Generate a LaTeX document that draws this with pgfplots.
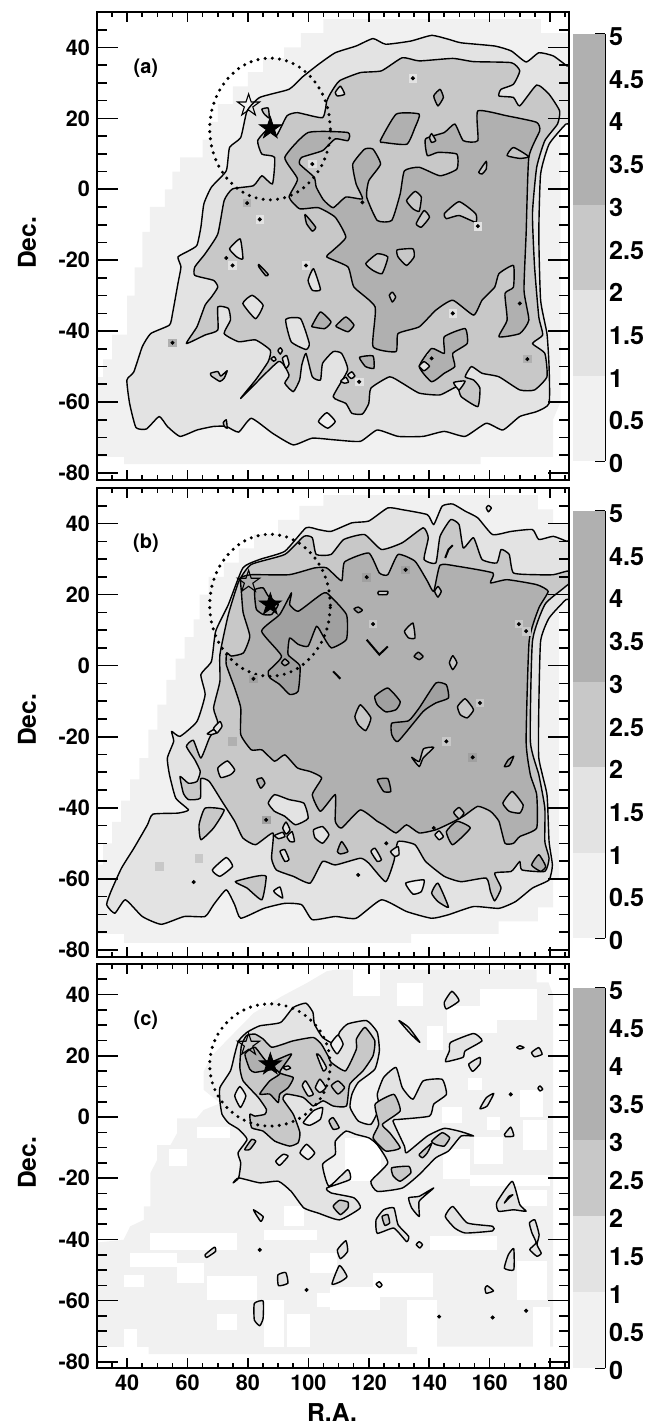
\documentclass[border=0pt]{standalone}
\usepackage{fontspec}
\setmainfont{TeX Gyre Heros}
\usepackage{pgfplots}
\pgfplotsset{compat=1.18}
\usetikzlibrary{plotmarks}
\definecolor{lvA}{HTML}{F1F1F1}
\definecolor{lvB}{HTML}{E3E3E3}
\definecolor{lvC}{HTML}{C8C8C8}
\definecolor{lvD}{HTML}{B0B0B0}
\definecolor{lvE}{HTML}{A0A0A0}
% five pointed star, radius = mark size
\newcommand{\starpath}{%
  \pgfpathmoveto{\pgfpointpolar{90}{\pgfplotmarksize}}%
  \pgfpathlineto{\pgfpointpolar{126}{0.382\pgfplotmarksize}}%
  \pgfpathlineto{\pgfpointpolar{162}{\pgfplotmarksize}}%
  \pgfpathlineto{\pgfpointpolar{198}{0.382\pgfplotmarksize}}%
  \pgfpathlineto{\pgfpointpolar{234}{\pgfplotmarksize}}%
  \pgfpathlineto{\pgfpointpolar{270}{0.382\pgfplotmarksize}}%
  \pgfpathlineto{\pgfpointpolar{306}{\pgfplotmarksize}}%
  \pgfpathlineto{\pgfpointpolar{342}{0.382\pgfplotmarksize}}%
  \pgfpathlineto{\pgfpointpolar{18}{\pgfplotmarksize}}%
  \pgfpathlineto{\pgfpointpolar{54}{0.382\pgfplotmarksize}}%
  \pgfpathclose}
\pgfdeclareplotmark{fstar}{\starpath\pgfusepathqfillstroke}
\pgfdeclareplotmark{ostar}{\starpath\pgfusepathqstroke}
\newcommand{\tickfont}{\fontsize{10.8}{12}\selectfont\bfseries}
\newcommand{\barfont}{\fontsize{12.6}{14}\selectfont\bfseries}
\pgfplotsset{
  mapbase/.style={scale only axis,width=236pt,xmin=30,xmax=186.3,ymin=-82,ymax=50,
    tick align=inside,axis on top,axis line style={line width=1.1pt},
    every tick/.style={black,line width=0.8pt},
    tick label style={font=\tickfont},/pgf/number format/assume math mode=true},
  mapy/.style={mapbase,xtick=\empty,ytick={-80,-60,...,40},minor ytick={-80,-75,...,50},
    major tick length=10.5pt,minor tick length=5pt},
  mapx/.style={mapbase,ytick=\empty,xtick={40,60,...,180},minor xtick={30,35,...,185},
    major tick length=5pt,minor tick length=2.5pt},
  cbar/.style={scale only axis,width=16pt,xmin=0,xmax=1,ymin=0,ymax=5,
    axis x line=none,axis y line=right,axis line style={-,line width=0.8pt},
    ytick={0,0.5,...,5},yticklabels={0,0.5,1,1.5,2,2.5,3,3.5,4,4.5,5},tick align=inside,
    major tick length=5pt,every tick/.style={black,line width=0.8pt},
    yticklabel style={font=\barfont,xshift=-1.5pt,yshift=-1.3pt},/pgf/number format/assume math mode=true},
}
\newcommand{\cont}[2]{\addplot[fill=#1,draw=black,line width=0.7pt,line join=round,smooth cycle,tension=0.3,forget plot] coordinates {#2};}
\newcommand{\zone}[2]{\addplot[fill=#1,draw=none,forget plot] coordinates {#2} -- cycle;}
\newcommand{\lin}[1]{\addplot[black,line width=1pt,forget plot] coordinates {#1};}
\newcommand{\cells}[2]{\addplot[only marks,mark=square*,mark size=1.9pt,color=#1,forget plot] coordinates {#2};}
\newcommand{\pts}[1]{\addplot[only marks,mark=*,mark size=0.8pt,color=black,forget plot] coordinates {#1};}
% white gap in the lightest level: x0 x1 y0 y1
\newcommand{\gap}[4]{\zone{white}{(#1,#3)(#2,#3)(#2,#4)(#1,#4)}}
\newcommand{\overlay}{%
  \addplot[black,line width=1.7pt,line cap=round,dash pattern=on 0pt off 3.6pt,smooth,forget plot] coordinates {
    (107.3,17)(106.6,22.2)(104.6,27)(101.4,31.1)(97.3,34.3)(92.5,36.3)(87.3,37)(82.1,36.3)(77.3,34.3)(73.2,31.1)(70,27)(68,22.2)
    (67.3,17)(68,11.8)(70,7)(73.2,2.9)(77.3,-0.3)(82.1,-2.3)(87.3,-3)(92.5,-2.3)(97.3,-0.3)(101.4,2.9)(104.6,7)(106.6,11.8)(107.3,17)};
  \addplot[only marks,mark=fstar,mark size=5.8pt,mark options={fill=black,draw=black},forget plot] coordinates {(87.4,17.2)};
  \addplot[only marks,mark=ostar,mark size=5.8pt,mark options={draw=black,line width=0.55pt},forget plot] coordinates {(80.2,23.6)};
}
\newcommand{\colbar}[1]{%
  \begin{axis}[cbar,#1]
    \zone{lvA}{(0,0)(1,0)(1,1)(0,1)}
    \zone{lvB}{(0,1)(1,1)(1,2)(0,2)}
    \zone{lvC}{(0,2)(1,2)(1,3)(0,3)}
    \zone{lvD}{(0,3)(1,3)(1,5)(0,5)}
  \end{axis}}
\begin{document}
\begin{tikzpicture}
\path[use as bounding box] (0,0) rectangle (327.5pt,712.5pt);
%%%% panel a
\begin{axis}[mapy,height=234pt,at={(48.5pt,472.5pt)},anchor=south west]
\zone{lvA}{(30,-53)(32,-53)(32,-48)(35,-48)(35,-41)(40,-41)(40,-30)(42.5,-30)(42.5,-22)(45,-22)(45,-12)(47.5,-12)(47.5,-5)(52.5,-5)(52.5,0)(55,0)(55,5)(57.5,5)(57.5,9)(65,9)(65,14)(67.5,14)(67.5,19)(70,19)(70,24)(75,24)(75,29)(80,29)(80,33)(85,33)(85,37)(92,37)(92,40)(97.5,40)(97.5,44)(105,44)(105,48)(177,48)(177,44)(179.5,44)(186.3,44)(186.3,24)(183.5,24)(183.5,-60)(181,-65)(181,-75.5)(157,-75.5)(157,-77.5)(39,-77.5)(39,-75.5)(30,-75.5)}
\cont{lvB}{(39.9,-53.8)(42.2,-51.5)(45,-44.4)(47.8,-40.7)(54,-38.3)(55,-35.1)(56.8,-26.6)(57.8,-21.9)(56.8,-19.1)(60.3,-17.4)(63.1,-15.8)(64.4,-10.7)(65.4,-4.1)(67.9,0.6)(72.8,5.2)(73.9,11.8)(77.6,14.6)(79.7,22.1)(83.9,25.9)(93.6,28.2)(97.8,31.5)(103.3,35.2)(108.9,38.5)(115.8,40.4)(121.4,42.5)(125.6,40.9)(133.9,41.8)(140.8,43.4)(146.4,42.3)(150.6,41.3)(161.7,40.4)(167.2,39)(172.1,35.9)(176.3,38.5)(181.1,37.6)(185.6,34.8)(187.5,34)(187.5,18.5)(185.3,18.4)(179.7,12.7)(176.9,4.3)(176.3,-12.6)(176.9,-31.3)(179,-40.7)(179.7,-50)(179.7,-60.4)(175.6,-62.7)(170,-64.1)(164.4,-67.9)(158.9,-66)(151.9,-69.7)(145,-68.3)(138,-69.7)(129.7,-69.7)(122.8,-67.9)(117.2,-71.1)(108.9,-70.7)(101.3,-70.2)(95,-72.1)(88.1,-68.8)(81.1,-64.6)(76.9,-68.5)(72.8,-66.9)(68.6,-66.9)(63.1,-67.9)(57.5,-69.7)(53.3,-66.9)(50.6,-64.1)(46.4,-67.6)(42.9,-67.2)(40.8,-60.4)}
\cont{lvC}{(62.4,-21.9)(65.8,-18.2)(70,-12.6)(72.1,-3.2)(74.9,0.1)(81.8,1)(84.6,3.8)(88.1,1.5)(88.8,9)(84.6,9.9)(83.2,13.7)(86.7,17)(89.4,15.1)(92.9,20.7)(96.4,21.6)(104.7,20.2)(106.1,24.9)(107.5,27.3)(110.3,30.6)(117.2,32.9)(124.2,33.4)(131.1,37.1)(136.7,36.2)(147.8,36.9)(154.7,36)(167.2,35.7)(170,33.4)(167.9,29.6)(163.8,28.2)(163.1,26.3)(167.9,25.9)(170,23.5)(175.6,29.4)(179.7,26.8)(183.2,22.1)(182.5,18.4)(178.3,13.7)(175.6,6.2)(174.2,-6.9)(174.9,-21.9)(176.3,-36)(177.6,-41.1)(174.2,-43.5)(178.3,-46.3)(179,-52.9)(174.9,-56.6)(170,-56.6)(163.1,-52.9)(157.5,-51.9)(154,-50)(151.9,-52.9)(154.7,-53.8)(156.8,-56.1)(156.1,-61.3)(150.6,-58.5)(149.2,-55.7)(143.6,-58)(136.7,-57.5)(131.1,-54.7)(126.9,-52.9)(120.7,-56.1)(120,-60.4)(117.9,-63.4)(114.4,-63.2)(112.4,-60.4)(108.2,-58.5)(113,-51)(111,-46.3)(108.2,-45.8)(104.7,-49.1)(104,-53.8)(101.3,-52.9)(99.2,-46.3)(97.8,-49.6)(97.1,-53.8)(95,-57.1)(92.2,-54.7)(93.6,-52.4)(90.1,-48.6)(77.6,-59)(82.5,-53.8)(86.7,-48.6)(87.4,-45.4)(82.5,-42.5)(76.9,-43)(72.1,-40.7)(74.2,-36.9)(73.5,-33.6)(70,-33.2)(70,-39.7)(65.8,-41.1)(59.6,-43.5)(63.1,-38.8)(65.8,-32.7)(67.9,-30.4)(70,-27.6)(68.6,-25.7)(62.4,-24.3)}
\cont{lvD}{(99.9,16)(113.1,16)(113.1,13.7)(108.9,14.2)(104.7,10.9)(97.8,9)(97.1,7.1)(101.9,3.4)(102.6,0.6)(105,-3)(108.2,-5.2)(112.4,-2.2)(117.9,-2.7)(115.8,1.5)(114.7,7.1)(118.6,11.3)(121.4,11.3)(123.9,7.1)(120,2.4)(119.3,-2.2)(122.8,-8.8)(127.6,-8.8)(130.4,-1.3)(131.8,5.2)(136.7,6.2)(143.6,3.8)(149.2,5.7)(149.2,9.9)(142.9,10.4)(139.4,9.5)(138.8,14.2)(145,16)(148.5,18.4)(151.3,13.7)(156.1,13.7)(156.1,22.1)(165.8,20.7)(175.5,18.9)(176.6,16.5)(173,9)(172.1,-12.6)(171.4,-28.5)(173,-36.9)(170,-40.7)(163.1,-41.6)(165.8,-36.9)(165.1,-29.4)(167.9,-27.6)(167.9,-21.5)(163.1,-23.8)(161.7,-27.6)(157.5,-31.3)(154.7,-35.5)(147.8,-31.3)(142.2,-34.1)(136.7,-38.8)(129.7,-40.7)(129,-45.8)(121.4,-44.4)(122.1,-33.2)(115.1,-27.6)(113.1,-21.9)(106.1,-19.1)(108.2,-17.2)(112.4,-13.5)(108.9,-7.9)(103.3,-5.2)(97.1,-5.5)(93.6,-2.2)(96.4,2.9)(92.2,9)}
\cont{lvD}{(123.8,13.7)(129.1,21.2)(136.7,21.2)(135.3,17.4)(132.6,12.7)(124.9,13.2)}
\cont{lvD}{(101.3,-38.3)(104,-34.6)(107.5,-37.4)(105.4,-39.3)(101.3,-38.8)}
\cont{lvD}{(109.3,-38.3)(112.4,-36)(115.1,-38.3)(113.1,-40.2)(109.3,-38.8)}
\cont{lvD}{(116.9,-47.4)(121.4,-47)(121.7,-50.5)(118.9,-50)}
\cont{lvD}{(145,-41.6)(151.9,-39.3)(152.6,-43.5)(147.8,-46.3)(148.5,-50)(145,-51.9)(140.8,-54.3)(136.7,-50)(140.8,-44.9)(145,-46.3)}
\cont{lvD}{(141.5,26.3)(143.6,28.2)(144.7,25.9)(142.9,23.5)}
\cont{lvD}{(98.9,-7.1)(102.4,-10.7)(101.3,-11.8)(99.4,-9.7)}
\cont{lvD}{(83.6,-21.2)(86.7,-24)(85.9,-24.4)(83.6,-21.9)}
\cont{lvB}{(108.9,27.3)(110.6,29.1)(112,26.8)(109.6,26.3)}
\cont{lvC}{(84.6,22.6)(86.7,22.9)(87,20.1)(85.3,21.3)}
\cont{lvC}{(165.8,9.5)(167.9,11.8)(173,9.2)(170,8.7)}
\cont{lvC}{(132.5,-3.2)(135.3,-0.6)(137.4,-2.2)(136.7,-6.2)(134.6,-5.5)}
\cont{lvC}{(135.7,-9.7)(138.3,-6)(140.1,-7.9)(137.4,-10.7)}
\cont{lvC}{(145,-6.9)(149.9,-3.5)(155.4,-6.9)(155.4,-9.3)(149.9,-7.4)(145.7,-8.3)}
\cont{lvC}{(119,-21)(122.8,-18.2)(126.3,-19.1)(124.4,-23.8)(121.4,-22.9)}
\cont{lvC}{(129.4,-17.1)(134.6,-16.8)(135,-19.1)(132.5,-21.5)(129.7,-19.1)}
\cont{lvC}{(126.8,-29.9)(127.8,-29)(128.9,-30.4)(127.8,-31.8)}
\cont{lvC}{(156.4,4.8)(158.9,7.9)(158.9,5.7)(157.5,4.3)}
\cont{lvC}{(140.1,14.6)(140.8,15.7)(142.2,13.7)(140.8,13.2)}
\cont{lvB}{(73.9,-16.8)(77.4,-14)(78.3,-19.6)(76.3,-19.1)}
\cont{lvB}{(78.3,-32.2)(81.4,-29.9)(85,-32.7)(82.5,-36.5)}
\cont{lvB}{(92.5,-36.7)(97.4,-36.5)(100.3,-43.5)(99.2,-45.2)(94.3,-43)}
\cont{lvB}{(99.9,-25.7)(101.7,-22.4)(104,-28.3)(101.3,-28.5)}
\cont{lvC}{(67.6,-51.9)(70,-51.4)(71,-52.7)(73.1,-51.2)(72.1,-53.3)(70.7,-54.2)(67.9,-52.7)}
\cont{lvA}{(103.3,-65.5)(106.1,-63)(108.9,-65.5)(106.4,-67.4)}
\cont{lvC}{(71.8,-65.8)(72.8,-65)(73.1,-67.4)(72.2,-66.9)}
\cont{lvB}{(89.9,-45.5)(90.7,-44.7)(91.4,-45.5)(90.7,-46.5)}
\cont{lvB}{(87.6,-47.8)(88.6,-47.2)(89.3,-48)(88.5,-48.5)}
\cont{lvB}{(91.4,-47.7)(92.8,-46.9)(93.6,-49.3)(92.5,-50.5)}
\cont{lvB}{(113,-52.4)(114.4,-51.5)(115.4,-52.7)(114.2,-53.4)}
\cont{lvB}{(110.7,-54.1)(112.4,-53)(113.3,-54.4)(111.9,-54.7)}
\cont{lvB}{(136.7,-49.9)(138.3,-48.6)(140.1,-49.9)(138.3,-51.2)}
\cont{lvB}{(148.1,-54.5)(151.9,-54.1)(149.9,-56.6)}
\cells{lvB}{(134.6,31.3)(83.9,-8.5)(74.9,-21.5)(99.2,-21.5)(101.3,7.1)(156.1,-10.4)(147.8,-35)(116.8,-54.3)}
\cells{lvD}{(79.7,-3.9)(55,-43.3)(140.8,-47.7)(172.5,-47.9)(170,-32.2)}
\pts{(134.6,31.3)(79.7,-3.9)(83.9,-8.5)(74.9,-21.5)(99.2,-21.5)(72.8,-19.4)(101.3,7.1)(55,-43.3)(140.8,-47.7)(172.5,-47.9)(170,-32.2)(147.8,-35)(156.1,-10.4)(116.8,-54.3)(117.9,-3.7)}
\overlay
\node[font=\fontsize{10}{12}\selectfont\bfseries] at (axis cs:46.2,34) {(a)};
\end{axis}
\begin{axis}[mapx,height=234pt,at={(48.5pt,472.5pt)},anchor=south west,xticklabels={}]
\end{axis}
\colbar{height=213.5pt,at={(286.5pt,482pt)},anchor=south west}
%%%% panel b
\begin{axis}[mapy,height=234.5pt,at={(48.5pt,234pt)},anchor=south west]
\zone{lvA}{(30,-75.5)(39,-75.5)(39,-78)(134,-78)(134,-75.5)(163,-75.5)(163,-72)(176,-72)(176,-68)(181,-68)(181,-60)(183,-60)(183,15)(186.3,15)(186.3,40)(181,40)(181,44)(176,44)(176,48)(105,48)(105,45)(97,45)(97,41)(90,41)(90,37)(82,37)(82,33)(77,33)(77,29)(72,29)(72,25)(67,25)(67,20)(64,20)(64,13)(62,13)(62,8)(59,8)(59,2)(56,2)(56,-4)(53,-4)(53,-11)(50,-11)(50,-18)(47,-18)(47,-26)(44,-26)(44,-32)(41,-32)(41,-38)(38,-38)(38,-44)(35,-44)(35,-50)(32,-50)(32,-56)(30,-56)}
\cont{lvB}{(33.2,-67.3)(34.6,-63.6)(38.1,-57)(42.2,-51.4)(46.7,-44.8)(48.5,-41.8)(56.8,-41.5)(60.3,-40.6)(56.1,-37.3)(54,-30.7)(53.3,-26)(55.4,-21.3)(54.7,-18.5)(57.5,-19.9)(63.1,-15.7)(65.8,-8.2)(64.4,-2.5)(67.9,1.2)(69.3,9.7)(73.5,17.2)(78.3,27.5)(83.9,29.9)(92.2,32.2)(99.2,38.8)(103.3,38.3)(107.5,37.8)(114.4,40.2)(120,40.7)(126.3,44.4)(131.1,43.9)(139.4,42.5)(141.5,39.7)(144.3,44.9)(147.8,45.5)(151.9,43.5)(156.1,41.6)(161,36.9)(167.2,37.8)(174.2,38.3)(176.3,35.5)(181.1,36.4)(185.6,35)(187.5,35)(187.5,19)(185.3,18.6)(179.7,13.4)(176.9,6.9)(176.3,-11.9)(176.3,-26)(179,-36.3)(179.7,-49.5)(180.8,-56.1)(179.7,-60.3)(174.2,-62.6)(168.6,-66.4)(163.1,-68.3)(154.7,-67.8)(146.4,-70.1)(140.8,-71.1)(132.5,-69.2)(124.2,-65.9)(115.8,-71.1)(108.9,-70.6)(101.3,-71.5)(97.8,-67.3)(92.2,-66.9)(85.3,-68.3)(77.6,-71.1)(75.6,-67.3)(72.8,-63.1)(68.6,-67.3)(65.8,-70.6)(58.9,-70.6)(51.3,-72.8)(45,-70.6)(39.4,-65.9)(35.9,-69.7)}
\cont{lvC}{(57.5,-31.2)(60.3,-33.1)(63.1,-32.6)(64.2,-29.8)(62.4,-26.5)(59.6,-22.7)(61.9,-21)(64.4,-26)(67.2,-20.4)(70,-16.2)(68.6,-11.9)(70.7,-4.4)(70.7,3.1)(73.5,14.4)(77,23.8)(81.1,28.5)(92.2,31.3)(98.5,36.4)(101.3,36)(102.6,31.3)(107.5,31.3)(111.7,35.5)(118.6,36.9)(124.2,32.7)(131.1,34.6)(138,38.8)(139.7,36)(138.3,29.9)(142.2,28.9)(143.6,36.4)(147.1,41.1)(149.9,39.7)(151.3,33.1)(154.7,36)(157.5,29.9)(162.4,28.9)(163.8,32.7)(166.5,31.3)(167.9,26.1)(175.6,25.6)(181.1,25.6)(185.6,26.6)(187.5,26.5)(187.5,24)(183.9,21.4)(178.3,17.2)(174.2,6.9)(173.5,-21.3)(176.3,-30.7)(178.3,-40.1)(178.3,-49.5)(179.7,-54.2)(178.3,-57.9)(170.7,-57.5)(170,-55.1)(167.2,-57.9)(161.7,-58.4)(163.8,-62.6)(161.7,-66.2)(160.3,-63.6)(158.9,-59.8)(150.6,-60.8)(145,-59.3)(138.8,-55.1)(135.3,-50.4)(129.7,-49.5)(128.3,-55.1)(125.6,-60.8)(120,-55.6)(117.2,-54.2)(108.9,-56.1)(104.7,-55.1)(100.6,-61.2)(95,-59.3)(89.4,-57.5)(87.8,-54.2)(88.3,-47.1)(82.5,-50.4)(78.3,-48.5)(75.6,-43.8)(71.4,-38.2)(67.2,-32.6)(64.4,-31.8)(64.2,-37.3)(60.3,-37.7)(58.6,-35.9)}
\cont{lvD}{(77.6,24.7)(81.1,25.6)(93.6,25.6)(102,27.5)(106.1,27.5)(111,23.9)(112,29.2)(120,31.7)(123.5,26.1)(126.3,25.6)(129.7,31.3)(135.3,29.4)(139.4,23.8)(141.5,20.9)(143.6,28.3)(149.2,28)(161.1,26.1)(160.3,23.3)(165.8,24.2)(175.6,22.8)(179.4,20.9)(176.3,16.2)(173.1,6.9)(172.1,-21.3)(173.5,-30.7)(175.6,-36.3)(175.6,-45.7)(170,-48.1)(167.9,-50)(165.1,-50)(163.1,-43.8)(160.3,-41)(156.1,-39.6)(151.3,-42.4)(147.1,-44.3)(142.2,-46.2)(136.7,-47.1)(132.5,-44.8)(129,-47.1)(124.9,-44.8)(122.8,-43.8)(117.2,-40.6)(111,-45.7)(108.9,-43.8)(108.9,-36.3)(104,-41)(101.3,-36.3)(104.4,-31.6)(100.6,-29.8)(96.4,-28.8)(92.2,-25.1)(88.8,-26.9)(84.6,-23.7)(81.1,-23.7)(77.6,-19.4)(77.6,-11.9)(75.6,-6.3)(72.8,0.3)(73,3.6)(74.5,2.7)(78.5,3.6)(80.6,8.3)(78.4,14.9)(77.8,21)}
\cont{lvE}{(84.5,9.7)(90.5,14.4)(94.4,20.5)(93.8,17.2)(96.6,15.3)(102.7,19.1)(106,20.5)(112.6,14.4)(112.6,7.4)(107.6,5)(104.9,8.3)(102.7,11.1)(99.9,5.5)(96.6,6)(93.8,7.8)(93.3,3.1)(97.2,-0.1)(96.6,-7.2)(93.8,-8.1)(90.5,-5.3)(87.2,-3.4)(86.7,-1.6)(91.1,2.7)}
\cont{lvE}{(82.3,21.4)(85,21.9)(86.7,19.6)(90,17.2)(87.8,14.4)(85,14.4)(82.8,15.8)(82.3,18.6)}
\cont{lvD}{(91.1,0.8)(92.2,1.9)(93.6,0.8)(92.2,0)}
\cont{lvE}{(122,-8.6)(126.3,-6.3)(130.4,-10.1)(129,-12.4)(125.6,-13)(122.8,-11)}
\cont{lvE}{(127.6,-16.2)(133.2,-15.5)(136.7,-11.9)(142.2,-4.9)(145.7,-5.4)(146.4,-9.1)(142.2,-10.5)(138,-12.9)(129.7,-21.3)(127.6,-19.4)}
\cont{lvC}{(115.4,-14.3)(117.2,-11)(120.7,-14.7)(119,-18.3)(116.5,-16.6)}
\cont{lvC}{(149.4,-11.5)(151.9,-9.3)(154.7,-12.4)(152.6,-14.7)(150.3,-13.8)}
\cont{lvC}{(131.8,9.7)(134.6,12)(135.3,7.8)(133.2,7.8)}
\cont{lvC}{(146.7,0.8)(147.8,2.8)(149.2,0.8)(147.8,-1.1)}
\cont{lvE}{(135,2.6)(136.4,3.8)(138,2.6)(136.7,1.7)}
\cont{lvC}{(164.4,-38.7)(167.5,-35.4)(171.1,-39.2)(170,-41.5)(166.5,-41)}
\cont{lvC}{(141.8,20.9)(142.9,22.3)(144,20.9)(142.9,19.3)}
\cont{lvC}{(134.2,-25.8)(136.7,-27)(138.1,-23.4)(141.5,-23)(138,-26)(136.7,-28.4)}
\cont{lvE}{(115.1,16)(116.5,16.5)(117.9,15.6)(116.5,14.9)}
\cont{lvC}{(123.2,20.9)(126.3,20.9)(126,20)(123.2,20)}
\cont{lvB}{(70,-28.8)(73.2,-26.8)(75.6,-29.3)(74.2,-30.7)(71,-31.5)}
\cont{lvB}{(86.7,-38.7)(88.8,-36.3)(93.6,-37.7)(98.5,-38.7)(99.9,-43)(95.7,-44.8)(92.2,-42.4)(88.8,-41)}
\cont{lvB}{(101.7,-46.2)(104.7,-45.3)(106.8,-47.6)(104.7,-50)(102.2,-48.5)}
\cont{lvC}{(63.8,-44.8)(65.8,-40.1)(72.1,-40.6)(68.6,-45.7)(64.4,-49)}
\cont{lvC}{(75.8,-60.8)(82.5,-59.3)(86,-59.3)(84.6,-65.9)(79.7,-62.6)}
\cont{lvA}{(68.2,-57.5)(72.8,-54)(74.9,-56.5)(70.7,-59.3)}
\cont{lvA}{(132.2,-61.2)(138.3,-60.3)(137.4,-63.6)(134.6,-64.3)}
\cont{lvA}{(88.5,-63.4)(90.6,-62.3)(91.5,-65.4)(89.4,-64.3)}
\cont{lvC}{(140.8,-64)(142.9,-61.2)(146.4,-68)(142.9,-66.4)}
\cont{lvD}{(173.9,-56.1)(176.3,-53.2)(178.6,-56.5)(176.9,-57.9)}
\cont{lvD}{(109.6,-52.3)(111,-49.5)(113.1,-52.3)(110.6,-53)}
\cont{lvB}{(90.6,-52.3)(92.2,-51.8)(93.6,-54.6)(92.2,-55.1)}
\cont{lvB}{(120.7,-52.3)(122.1,-51.4)(124.2,-54.6)(122.8,-55.1)}
\cont{lvB}{(127.2,-52.3)(129.7,-50.9)(130,-53.2)(128.6,-53.7)}
\cont{lvB}{(141.9,-47.6)(143.3,-46.5)(144.7,-48.1)(143.3,-49)}
\cont{lvD}{(145.7,-46.7)(149.2,-43.8)(153.6,-45.7)(147.8,-50.4)}
\cont{lvC}{(148.1,-41.3)(149.9,-39.9)(151.5,-41.5)(149.9,-43.1)}
\cont{lvB}{(91.5,-45.7)(92.6,-44)(93.9,-46.2)(92.6,-47.4)}
\cont{lvB}{(88.8,-47.8)(91.5,-46.9)(92.2,-48.1)(90.1,-48.7)}
\cont{lvB}{(92.9,-48.1)(94.6,-46.7)(95.4,-49.5)(93.9,-49.5)}
\cont{lvD}{(82.9,-32.1)(84.6,-31.6)(85.6,-33.1)(84.2,-34.5)}
\cont{lvE}{(122.8,-32.1)(126.3,-31.8)(127.3,-35.4)(124.9,-35.4)}
\cont{lvE}{(164.9,-28.4)(166.2,-26.5)(168,-25.5)(166.6,-28.1)}
\cont{lvB}{(68.6,-17.6)(70.7,-15.7)(71.4,-17.1)(69.7,-19)}
\cont{lvB}{(66.5,-19.2)(68.6,-18)(69.6,-18.9)(67.9,-19.4)}
\cont{lvB}{(158.9,44.4)(159.6,45.1)(160.6,44.4)(159.6,43.3)}
\lin{(145.3,30.3)(146.4,32.7)(147.8,33.9)}
\lin{(119.3,7.3)(123.5,3.1)(126.3,5.4)}
\lin{(108.2,-1.6)(110.6,-3.7)}
\cells{lvC}{(121.4,11.7)(169.7,11.7)(172.1,9.7)(156.8,-10.5)(145.7,-21.3)}
\cells{lvE}{(81.8,-3.7)(119.3,24.9)(132.2,27)(154.4,-25.8)(86,-43.4)}
\cells{lvC}{(50.6,-56.5)(63.8,-54.2)}
\cells{lvD}{(74.9,-21.3)}
\pts{(81.8,-3.7)(119.3,24.9)(132.2,27)(121.4,11.7)(169.7,11.7)(172.1,9.7)(156.8,-10.5)(145.7,-21.3)(154.4,-25.8)(86,-43.4)(141.5,-45.7)(125.8,-50)(116.5,-58.9)(62,-60.9)}
\overlay
\node[font=\fontsize{10}{12}\selectfont\bfseries] at (axis cs:46.2,34.5) {(b)};
\end{axis}
\begin{axis}[mapx,height=234.5pt,at={(48.5pt,234pt)},anchor=south west,xticklabels={}]
\end{axis}
\colbar{height=213.5pt,at={(286.5pt,243.5pt)},anchor=south west}
%%%% panel c
\begin{axis}[mapy,height=202pt,at={(48.5pt,28.5pt)},anchor=south west]
\zone{lvA}{(30,-41)(38.8,-40.1)(41,-35.7)(45.5,-33.6)(45.5,-29.2)(47.7,-29.2)(47.7,-18.3)(49.9,-14)(49.9,-9.2)(54.3,-9.2)(56.5,-5.3)(56.5,-0.4)(63,-0.4)(65.3,2.3)(70.8,4.5)(65.3,8.9)(65.3,14.9)(68,20)(76.4,28.5)(81.9,34)(91.3,39.5)(99.5,43.8)(106.2,47.7)(109.5,48.2)(175.6,48.2)(175.6,44)(179.5,44)(181,40)(181,-75)(136,-75)(136,-77.5)(47.1,-77.5)(47.1,-75.1)(30,-75.1)}
\gap{112}{124}{-21}{-7}
\gap{63.1}{74.2}{-7}{-3.2}
\gap{47.7}{76.4}{-43.4}{-37.9}
\gap{41}{56.5}{-48.9}{-44.5}
\gap{56.5}{65.3}{-54.3}{-47.8}
\gap{66.4}{83}{-59.8}{-52.1}
\gap{38.8}{45.5}{-55.4}{-51.6}
\gap{85.2}{91.8}{-75}{-59.8}
\gap{69.7}{76.4}{-69.6}{-64.2}
\gap{38.8}{43.2}{-75}{-69.1}
\gap{100.6}{109.5}{-51}{-44.5}
\gap{102.8}{109.5}{-62}{-57.6}
\gap{92.9}{100.6}{-75}{-64.2}
\gap{85.2}{103}{-40.1}{-36.8}
\gap{91.8}{98.4}{-35.7}{-29.2}
\gap{53.7}{59.8}{-16}{-10.6}
\gap{144.7}{153.6}{-20.4}{-10.6}
\gap{153.6}{180}{-22.6}{-18.8}
\gap{169}{179}{-29.2}{-23.7}
\gap{140.3}{162.4}{-43.4}{-39}
\gap{169}{179}{-59.8}{-47.2}
\gap{107.2}{123.8}{-63}{-55.4}
\gap{132.6}{142.5}{-75}{-59.8}
\gap{121.5}{141.4}{-58.7}{-51}
\gap{174.5}{180}{-75}{-62}
\gap{114.9}{123.8}{39.5}{48.2}
\gap{129.3}{138.1}{36.2}{43.8}
\gap{145.8}{162.4}{27.5}{36.2}
\gap{156.9}{175.6}{31.8}{41.7}
\gap{139.2}{144.7}{22}{29.6}
\gap{144.2}{150.8}{-2}{3.4}
\gap{153}{157.4}{8.9}{12.7}
\gap{170}{177.8}{0.1}{8.9}
\gap{171.2}{179}{-10.8}{-1}
\gap{159}{163.5}{-4.2}{0.1}
\gap{154.7}{164.6}{-15.2}{-6.4}
\cont{lvB}{(70.7,9.6)(74.2,15.1)(75.6,20.5)(76.9,24.9)(79.7,27.7)(83.9,29.8)(90.8,30.9)(95,35.8)(99.2,37.2)(101.5,34.2)(102,30.4)(104.7,26)(108.9,23.8)(110.3,27.7)(113,30.4)(119.3,31.5)(122.8,27.7)(123.5,21.6)(122,15.6)(116.5,11.3)(114.4,7.4)(113.8,3.1)(116.5,-1.3)(120.7,-2.4)(123.5,3.1)(122.8,7.4)(124.9,12.9)(129,16.2)(131.1,9.6)(134.6,5.8)(138,11.8)(144.3,12.3)(145.7,7.4)(141.5,4.2)(140.1,0.3)(129.7,-0.8)(128,-1.3)(131.8,-9.5)(132.5,-11.7)(139.4,-6.2)(145,-3.7)(150.6,-4.8)(154.7,-6.2)(150.6,-6.2)(146.4,-11.1)(142.2,-13.3)(136.7,-18.8)(131.1,-23.2)(122.8,-24.3)(120.7,-21)(126.3,-15)(122.8,-9)(120,-6.8)(115.8,-5.7)(112.4,-4.6)(108.9,-7.9)(108.9,-12.2)(104.7,-15.5)(106.8,-22.6)(113,-17.2)(113.8,-20.4)(106.1,-23.2)(107.5,-24.8)(115.1,-26.4)(117.2,-29.7)(110.3,-33.6)(103.3,-31.4)(98.5,-29.7)(94.3,-24.3)(90.1,-21)(83.9,-21.5)(76.9,-19.9)(75.1,-21.5)(76.9,-19.9)(77.6,-15)(76.7,-11.7)(79.7,-7.3)(76.9,-4)(73.5,-1.9)(71.4,0.9)(70.7,5.2)}
\cont{lvC}{(77.8,23.3)(79.5,26.6)(82.3,27.1)(85,25.5)(87.8,22.8)(91.6,23.8)(95,24.9)(101.6,26)(104.3,23.8)(106.5,20)(107.6,17.8)(112.3,15.1)(115.9,22.2)(115.9,25.5)(118.7,29.3)(122,24.9)(121.4,20)(118.1,15.1)(113.7,10.7)(112.6,3.6)(108.2,3.6)(104.9,5.3)(101.6,3.6)(98.3,6.4)(92.7,7.5)(91.6,5.8)(95,0.9)(97.2,-5.1)(96.6,-8.4)(93.8,-9.5)(88.9,-7.9)(85,-4.6)(81.2,-3.5)(80.6,0.9)(82.3,0.3)(85.6,0.9)(86.1,2.5)(83.4,6.4)(78.4,11.8)(77.3,16.2)}
\cont{lvD}{(79,20.6)(82.3,22.8)(86.7,17.8)(94.4,20.6)(90.5,14.6)(95,12.9)(93.3,9.6)(90.5,7.5)(90,4.7)(87.2,7.5)(83.9,7.5)(87.2,11.8)(90.5,14)(88.9,15.6)(82.3,14.6)(80.6,15.6)}
\cont{lvB}{(98,10.2)(99.1,11.8)(101.6,7.5)(99.9,6.9)}
\cont{lvB}{(102.3,9.6)(103.8,12.4)(105.8,9.6)(103.8,8)}
\cont{lvC}{(107.6,10.2)(109.8,11.8)(112,9.6)(109.8,7.5)}
\cont{lvB}{(102.7,20.6)(103.8,20)(106,16.2)(104.9,15.1)}
\cont{lvB}{(91.6,16.2)(93.3,16.7)(94.1,16)(92.7,15.4)}
\cont{lvC}{(78.9,-10.6)(81.2,-7.3)(82.6,-7.9)(80.6,-10.6)}
\cont{lvC}{(106.8,-1.3)(108.2,-0.2)(110.2,-3.5)(108.2,-4)}
\cont{lvA}{(75.6,6.9)(77.3,10)(79.3,6.9)(77.5,3.1)}
\cont{lvA}{(107.4,23.8)(109.8,26.8)(111.5,23.8)(109.5,20.6)}
\cont{lvA}{(98.3,-1.8)(101.6,2)(104.7,3.1)(104,-0.7)(100.5,-2.7)}
\cont{lvA}{(97.2,-11.7)(99.4,-8.9)(102.1,-11.7)(99.9,-13.9)}
\cont{lvA}{(89.2,-14.4)(91.6,-12.2)(93.3,-12.8)(90.5,-15.8)}
\cont{lvC}{(122.1,4.2)(128.3,7.4)(130.4,2)(124.5,-2.4)(126.9,-5.1)(130.4,-10.1)(125.6,-11.1)(121.4,-6.8)(123.3,-2.4)}
\cont{lvC}{(140.8,-7.9)(144.3,-5.1)(146.8,-6.8)(145,-9.5)(142.2,-9)}
\cont{lvC}{(136.7,-12.2)(140.8,-8.6)(139.4,-11.7)(137.8,-13.3)}
\cont{lvC}{(127.6,-16.6)(133.2,-16.1)(133.9,-18.3)(130.4,-21)(128.1,-19.3)}
\cont{lvC}{(108.2,-29.2)(110.3,-27.2)(113.1,-27.8)(113.1,-29.7)(110.6,-31.9)}
\cont{lvB}{(145,37.5)(147.5,41.1)(149.9,38)(145.7,35.3)}
\cont{lvB}{(130,31.5)(133.2,29.3)(136.9,24.4)(133.9,27.1)}
\cont{lvB}{(147.1,24.4)(154.7,27.3)(157.5,24.9)(151.9,21.6)(151.2,19.5)(145.4,18.1)(146.7,21.6)}
\cont{lvB}{(153.1,17.3)(156.8,19.5)(156.8,17.3)(154.4,14.9)}
\cont{lvB}{(173.9,21.1)(176.3,22.7)(177.4,20.5)(174.9,19.7)}
\cont{lvB}{(169,22.7)(170,23.3)(171.4,22.7)(170,22.2)}
\cont{lvB}{(176,9.4)(176.7,10.2)(177.6,9.1)(176.7,8.5)}
\cont{lvB}{(156.8,2.7)(158.9,6.3)(161.4,7.7)(159.2,3.6)}
\cont{lvB}{(164.9,-5.7)(167,-3.3)(168,-6.2)(165.2,-6.4)}
\cont{lvB}{(162.4,-27.9)(167.5,-21)(170,-28.6)(172.1,-30.8)(167.9,-30.3)(163,-30.8)}
\cont{lvC}{(164.9,-28.1)(166.4,-25.9)(167.7,-25.4)(166.4,-26.5)}
\cont{lvB}{(173.2,-34.6)(175,-33.6)(176.4,-38.5)(175.7,-41.7)(177.1,-44.5)(175.7,-45.5)(173.3,-43.3)(175.4,-41.1)(174,-37.8)}
\cont{lvB}{(164.9,-49.4)(166.2,-45)(168,-43)(168,-49.9)}
\cont{lvB}{(145.3,-32.5)(147.8,-29.2)(152.6,-34.6)(161,-35.7)(161,-37.2)(152,-37.9)(148.5,-36.3)}
\cont{lvB}{(133.2,-26.4)(136.7,-25.9)(141.5,-23.2)(136.7,-27.5)(136.7,-32.5)(134.2,-29.7)}
\cont{lvB}{(122.4,-33.6)(124.9,-30.3)(128.3,-29.7)(129.7,-35.2)(133.2,-39)(132.5,-40.7)(128.3,-36.3)(122.8,-38)}
\cont{lvC}{(124.4,-32.5)(126.3,-31.9)(126.9,-34.6)(125.3,-35.4)}
\cont{lvB}{(81.8,-30.3)(85,-32.5)(84.2,-34.1)}
\cont{lvB}{(135.7,-41.7)(136.7,-40.7)(137.8,-41.7)(136.9,-42.8)}
\cont{lvB}{(109.6,-43.4)(112.4,-40.4)(113,-43.9)(110.6,-46.3)}
\cont{lvB}{(65.8,-45)(68.9,-42.5)(69.3,-43.9)(66.3,-45.9)}
\cont{lvB}{(89.9,-51.6)(92.5,-50.8)(93.2,-54.3)(90.1,-55.1)}
\cont{lvB}{(107.8,-54.6)(110.3,-48.5)(112.8,-52.1)(110.6,-53.8)}
\cont{lvB}{(122.4,-54.6)(123.5,-53.8)(124.4,-54.9)(123.5,-55.7)}
\cont{lvB}{(158.5,-56)(159.2,-55.1)(161.3,-56.8)(158.9,-57.6)}
\cont{lvB}{(82.1,-60.9)(85,-60.1)(85,-65.8)(83.9,-68.2)(82.1,-66.3)}
\pts{(83.9,-43.4)(99.4,-56.5)(143.3,-65.2)(161,-65.5)(172.1,-63.3)(167,7.4)}
\overlay
\node[font=\fontsize{10}{12}\selectfont\bfseries] at (axis cs:46.2,31.7) {(c)};
\end{axis}
\begin{axis}[mapx,height=202pt,at={(48.5pt,28.5pt)},anchor=south west]
\end{axis}
\colbar{height=190pt,at={(286.5pt,28.5pt)},anchor=south west}
%%%% outer labels
\node[rotate=90,font=\fontsize{12.3}{14}\selectfont\bfseries] at (13.5pt,591pt) {Dec.};
\node[rotate=90,font=\fontsize{12.3}{14}\selectfont\bfseries] at (13.5pt,352.5pt) {Dec.};
\node[rotate=90,font=\fontsize{12.3}{14}\selectfont\bfseries] at (13.5pt,131pt) {Dec.};
\node[font=\fontsize{12.3}{14}\selectfont\bfseries] at (166pt,6pt) {R.A.};
\end{tikzpicture}
\end{document}
